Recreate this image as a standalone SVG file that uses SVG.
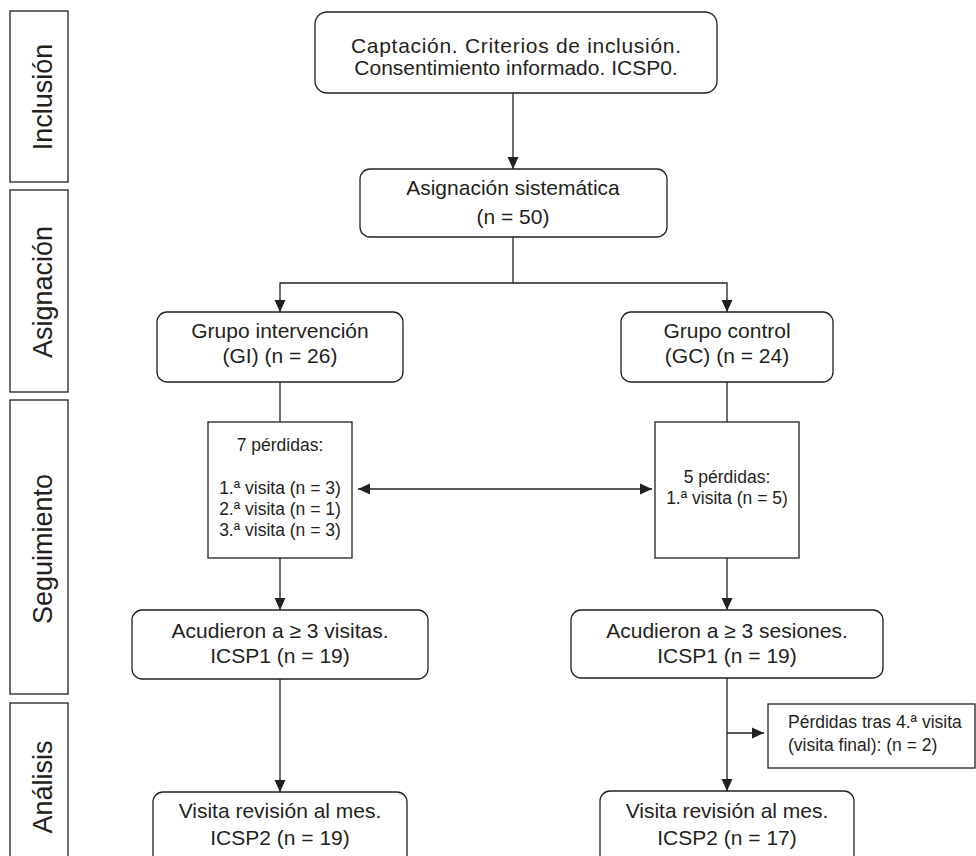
<svg xmlns="http://www.w3.org/2000/svg" width="976" height="856" viewBox="0 0 976 856">
<defs>
<marker id="ah" viewBox="0 0 12 12" refX="12" refY="6" markerWidth="12" markerHeight="12" markerUnits="userSpaceOnUse" orient="auto-start-reverse">
<path d="M0,0.5 L12,6 L0,11.5 z" fill="#231f20"/>
</marker>
<style>
text{font-family:"Liberation Sans",Arial,sans-serif;fill:#231f20}
.big{font-size:21px;text-anchor:middle}
.sm{font-size:17.5px;text-anchor:middle}
.sml{font-size:17.5px}
.lab{font-size:27px;text-anchor:middle}
.box{fill:#fff;stroke:#231f20;stroke-width:1.3}
.edge{fill:none;stroke:#231f20;stroke-width:1.3}
</style>
</defs>
<rect width="976" height="856" fill="#fff"/>

<g id="stage-inclusion"><rect class="box" x="10" y="11" width="58" height="171"/><text class="lab" transform="translate(52,97) rotate(-90)">Inclusión</text></g>
<g id="stage-asignacion"><rect class="box" x="10" y="190" width="58" height="202"/><text class="lab" transform="translate(52,292) rotate(-90)">Asignación</text></g>
<g id="stage-seguimiento"><rect class="box" x="10" y="400" width="58" height="294"/><text class="lab" transform="translate(52,549) rotate(-90)">Seguimiento</text></g>
<g id="stage-analisis"><rect class="box" x="10" y="703" width="58" height="170"/><text class="lab" transform="translate(52,787) rotate(-90)">Análisis</text></g>

<g id="connectors">
<line class="edge" x1="513" y1="93" x2="513" y2="169" marker-end="url(#ah)"/>
<polyline class="edge" points="513,237 513,283"/>
<polyline class="edge" points="513,283 280,283 280,312" marker-end="url(#ah)"/>
<polyline class="edge" points="513,283 727,283 727,312" marker-end="url(#ah)"/>
<line class="edge" x1="280" y1="382" x2="280" y2="422"/>
<line class="edge" x1="727" y1="382" x2="727" y2="422"/>
<line class="edge" x1="358" y1="489" x2="652" y2="489" marker-start="url(#ah)" marker-end="url(#ah)"/>
<line class="edge" x1="280" y1="558" x2="280" y2="610" marker-end="url(#ah)"/>
<line class="edge" x1="727" y1="558" x2="727" y2="610" marker-end="url(#ah)"/>
<line class="edge" x1="280" y1="679" x2="280" y2="792" marker-end="url(#ah)"/>
<line class="edge" x1="727" y1="678" x2="727" y2="791" marker-end="url(#ah)"/>
<line class="edge" x1="727" y1="733" x2="764" y2="733" marker-end="url(#ah)"/>
</g>

<g id="n-captacion"><rect class="box" x="315" y="12" width="402" height="81" rx="12"/><text class="big" x="516" y="53" textLength="330" lengthAdjust="spacing">Captación. Criterios de inclusión.</text><text class="big" x="516" y="75">Consentimiento informado. ICSP0.</text></g>
<g id="n-asignacion"><rect class="box" x="360" y="169" width="307" height="68" rx="10"/><text class="big" x="513" y="195">Asignación sistemática</text><text class="big" x="513" y="224">(n = 50)</text></g>
<g id="n-gi"><rect class="box" x="157" y="312" width="246" height="70" rx="10"/><text class="big" x="280" y="338">Grupo intervención</text><text class="big" x="280" y="363">(GI) (n = 26)</text></g>
<g id="n-gc"><rect class="box" x="621" y="312" width="212" height="70" rx="10"/><text class="big" x="727" y="338">Grupo control</text><text class="big" x="727" y="363">(GC) (n = 24)</text></g>
<g id="n-perdidas-gi"><rect class="box" x="208" y="422" width="144" height="136"/><text class="sm" x="280" y="451">7 pérdidas:</text><text class="sm" x="280" y="494">1.ª visita (n = 3)</text><text class="sm" x="280" y="515">2.ª visita (n = 1)</text><text class="sm" x="280" y="536">3.ª visita (n = 3)</text></g>
<g id="n-perdidas-gc"><rect class="box" x="655" y="422" width="144" height="136"/><text class="sm" x="727" y="483">5 pérdidas:</text><text class="sm" x="727" y="504">1.ª visita (n = 5)</text></g>
<g id="n-icsp1-gi"><rect class="box" x="132" y="610" width="296" height="69" rx="10"/><text class="big" x="280" y="638">Acudieron a ≥ 3 visitas.</text><text class="big" x="280" y="663">ICSP1 (n = 19)</text></g>
<g id="n-icsp1-gc"><rect class="box" x="571" y="610" width="312" height="68" rx="10"/><text class="big" x="727" y="638">Acudieron a ≥ 3 sesiones.</text><text class="big" x="727" y="663">ICSP1 (n = 19)</text></g>
<g id="n-perdidas-final"><rect class="box" x="768" y="704" width="207" height="64"/><text class="sml" x="788" y="728">Pérdidas tras 4.ª visita</text><text class="sml" x="788" y="751">(visita final): (n = 2)</text></g>
<g id="n-icsp2-gi"><rect class="box" x="153" y="792" width="254" height="80" rx="10"/><text class="big" x="280" y="818">Visita revisión al mes.</text><text class="big" x="280" y="845">ICSP2 (n = 19)</text></g>
<g id="n-icsp2-gc"><rect class="box" x="600" y="791" width="254" height="81" rx="10"/><text class="big" x="727" y="818">Visita revisión al mes.</text><text class="big" x="727" y="845">ICSP2 (n = 17)</text></g>
</svg>
